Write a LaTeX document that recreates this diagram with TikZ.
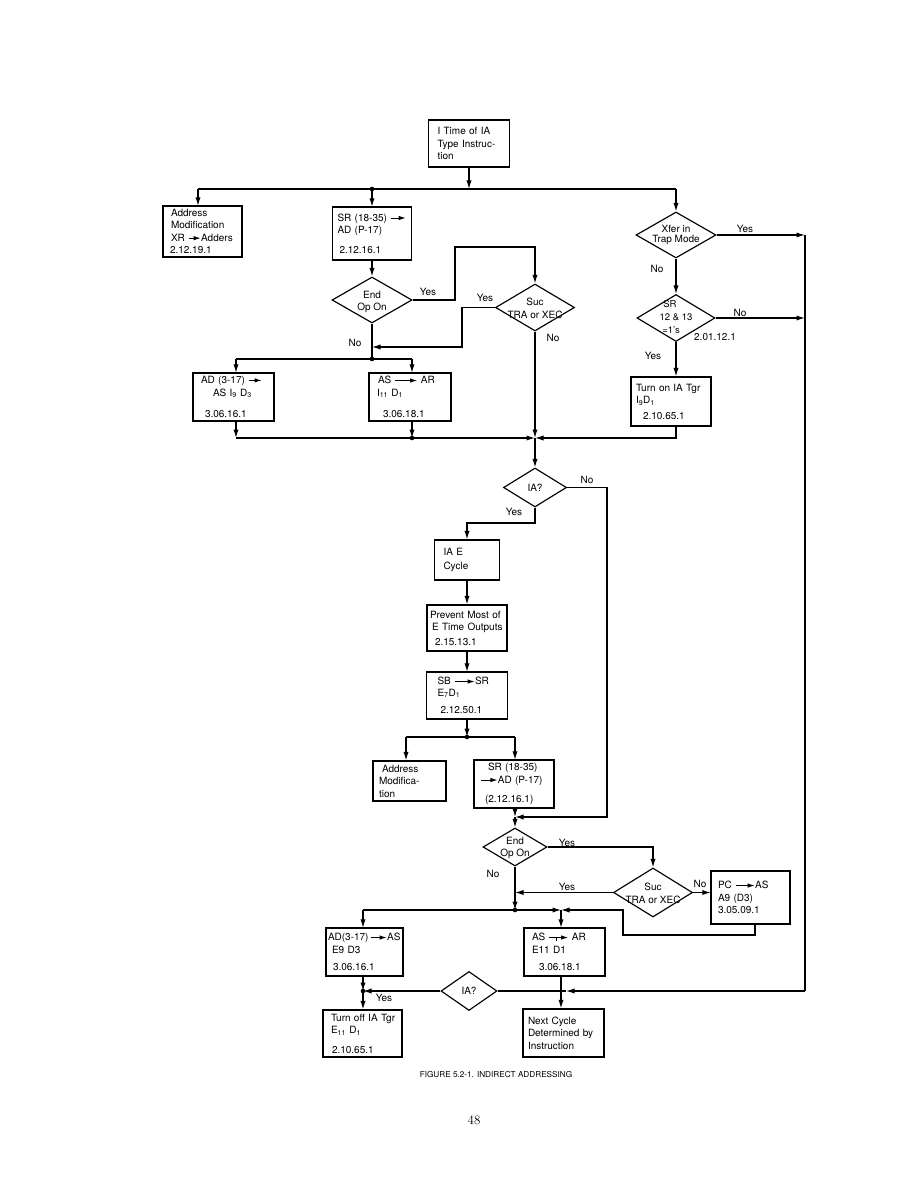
\documentclass[tikz,border=0pt]{standalone}
\usepackage{fontspec}
\setsansfont{TeX Gyre Heros}
\usetikzlibrary{arrows.meta,shapes.geometric,calc}
\newcommand\ffont{\sffamily\fontsize{10}{12.5}\selectfont}
\newcommand\inarr[1]{\tikz[baseline=-0.6ex]\draw[line width=0.9pt,-{Latex[length=7pt,width=4.4pt]}] (0pt,0pt) -- (#1,0pt);}
\newcommand\inarrt{\tikz[baseline=-0.6ex]{\draw[line width=0.9pt,-{Latex[length=7pt,width=4.4pt]}] (0pt,0pt) -- (19pt,0pt);\draw[line width=0.9pt] (7pt,0pt) -- (7pt,-3pt);}}
\newcommand\sub[1]{\textsubscript{#1}}
\begin{document}
\begin{tikzpicture}[x=1pt,y=-1pt,line width=1.15pt,
  arr/.style={-{Latex[length=8.5pt,width=5.2pt]}},
  box/.style={draw,rectangle,align=left,inner xsep=4pt,inner ysep=1pt,font=\ffont},
  dia/.style={draw,diamond,inner sep=0pt},
  txt/.style={align=center,inner sep=0pt,font=\ffont},
  lbl/.style={inner sep=0pt,font=\ffont}]
\useasboundingbox (0,0) rectangle (920,1190);

% ---------- boxes ----------
\node[box,text width=73pt,minimum height=47pt] (top) at (469,143.5) {\hspace*{5pt}I Time of IA\\\hspace*{5pt}Type Instruc-\\\hspace*{5pt}tion};
\node[box,text width=71pt,minimum height=51pt] (addr) at (202.5,231.5) {\hspace*{4pt}Address\\\hspace*{4pt}Modification\\\hspace*{4pt}XR \inarr{12pt}Adders\\\hspace*{3pt}2.12.19.1};
\node[box,text width=71pt,minimum height=53pt] (sr1) at (372,233.5) {\hspace*{1pt}SR (18-35) \inarr{15pt}\\\hspace*{1pt}AD (P-17)\\[7pt]\hspace*{3pt}2.12.16.1};
\node[box,text width=73pt,minimum height=48pt] (ad1) at (233.5,397) {\hspace*{4pt}AD (3-17) \inarr{13pt}\\\hspace*{16pt}AS I\sub{9} D\sub{3}\\[9pt]\hspace*{8pt}3.06.16.1};
\node[box,text width=74pt,minimum height=48pt] (as1) at (410,397) {\hspace*{5pt}AS \inarr{22pt} AR\\\hspace*{4pt}I\sub{11} D\sub{1}\\[9pt]\hspace*{10pt}3.06.18.1};
\node[box,text width=72pt,minimum height=49pt] (turnon) at (671,401.5) {\hspace*{1pt}Turn on IA Tgr\\\hspace*{1pt}I\sub{9}D\sub{1}\\[3pt]\hspace*{8pt}2.10.65.1};
\node[box,text width=57pt,minimum height=40pt] (iae) at (467,560) {\hspace*{5pt}IA E\\[1pt]\hspace*{5pt}Cycle};
\node[box,inner xsep=3pt,text width=74pt,minimum height=46pt] (prev) at (467,628) {Prevent Most of\\\hspace*{2pt}E Time Outputs\\[2pt]\hspace*{5pt}2.15.13.1};
\node[box,text width=73pt,minimum height=47pt] (sb) at (467,695.5) {\hspace*{7pt}SB \inarr{20pt}SR\\[-1pt]\hspace*{7pt}E\sub{7}D\sub{1}\\[5pt]\hspace*{10pt}2.12.50.1};
\node[box,text width=65pt,minimum height=40pt] (addr2) at (409.5,781) {\hspace*{5pt}Address\\\hspace*{2pt}Modifica-\\\hspace*{2pt}tion};
\node[box,text width=72pt,minimum height=48pt] (sr3) at (514,784) {\hspace*{10pt}SR (18-35)\\\hspace*{3pt}\inarr{16pt}AD (P-17)\\[7pt]\hspace*{7pt}(2.12.16.1)};
\node[box,text width=71pt,minimum height=53pt] (pc) at (750.5,897.5) {\hspace*{3pt}PC \inarr{19pt}AS\\\hspace*{3pt}A9 (D3)\\\hspace*{3pt}3.05.09.1};
\node[box,inner xsep=2pt,text width=73pt,minimum height=48pt] (ad2) at (364.5,952) {AD(3-17)\,\inarr{16pt}AS\\\hspace*{4pt}E9 D3\\[5pt]\hspace*{5pt}3.06.16.1};
\node[box,text width=73pt,minimum height=48pt] (as2) at (564.5,952) {\hspace*{4pt}AS \inarrt\ AR\\\hspace*{4pt}E11 D1\\[5pt]\hspace*{11pt}3.06.18.1};
\node[box,text width=71pt,minimum height=47pt] (turnoff) at (362.5,1033.5) {\hspace*{4pt}Turn off IA Tgr\\\hspace*{4pt}E\sub{11} D\sub{1}\\[7pt]\hspace*{5pt}2.10.65.1};
\node[box,text width=73pt,minimum height=48pt] (next) at (563.5,1033) {\hspace*{1pt}Next Cycle\\\hspace*{1pt}Determined by\\\hspace*{1pt}Instruction};

% ---------- diamonds ----------
\node[dia,minimum width=80pt,minimum height=46pt] (xfer) at (676,235) {};
\node[txt] (xfert) at (xfer.center) {Xfer in\\[-2pt]Trap Mode};
\node[dia,minimum width=80pt,minimum height=46pt] (end1) at (372,300) {};
\node[txt] (end1t) at ([yshift=-2pt]end1.center) {End\\Op On};
\node[dia,minimum width=79pt,minimum height=47pt] (suc1) at (535,307.5) {};
\node[txt] (suc1t) at ([yshift=-1pt]suc1.center) {Suc\\TRA or XEC};
\node[dia,minimum width=78pt,minimum height=47pt] (sr2) at (676,318) {};
\node[txt,font=\sffamily\fontsize{9.5}{13}\selectfont] (sr2t) at ([yshift=1pt]sr2.center) {\hspace*{-12pt}SR\\12 \& 13\\\hspace*{-10pt}=1's};
\node[dia,minimum width=63pt,minimum height=39pt] (ia1) at (535,487.5) {};
\node[txt] (ia1t) at (ia1.center) {IA?};
\node[dia,minimum width=64pt,minimum height=38pt] (end2) at (515,847) {};
\node[txt] (end2t) at ([yshift=-1pt]end2.center) {End\\Op On};
\node[dia,minimum width=79pt,minimum height=49pt] (suc2) at (653,892.5) {};
\node[txt] (suc2t) at ([yshift=-1pt]suc2.center) {Suc\\TRA or XEC};
\node[dia,minimum width=56pt,minimum height=39pt] (ia2) at (469,991) {};
\node[txt] (ia2t) at (ia2.center) {IA?};

% ---------- coordinates ----------
\coordinate (b1) at (469,189);
\coordinate (l1) at (198,189);
\coordinate (d1) at (372,189);
\coordinate (r1) at (676,189);
\coordinate (rtop) at (805,235);
\coordinate (rbot) at (805,991);
\coordinate (e1a) at (455,247);
\coordinate (s1a) at (462,347);
\coordinate (d2) at (372,359);
\coordinate (d2l) at (236,359);
\coordinate (d2r) at (412,359);
\coordinate (d3l) at (236,438);
\coordinate (d3) at (412,438);
\coordinate (j1) at (535,438);
\coordinate (n1) at (607,817);
\coordinate (j2) at (515,817);
\coordinate (y1) at (467,523);
\coordinate (d4) at (467,737);
\coordinate (d4l) at (406,737);
\coordinate (d4r) at (515,737);
\coordinate (d5) at (515,910);
\coordinate (d6l) at (363,910);
\coordinate (j3) at (561,910);
\coordinate (pb) at (755,935);
\coordinate (pa) at (623,935);
\coordinate (d7) at (363,991);
\coordinate (m1) at (566,991);

% ---------- connectors ----------
\draw[arr] (top.south) -- (b1);
\draw (l1) -- (r1);
\draw[arr] (l1) -- (l1 |- addr.north);
\draw[arr] (d1) -- (d1 |- sr1.north);
\draw[arr] (r1) -- (xfer.north);
\draw (rtop) -- (rbot);
\draw[arr] (xfer.east) -- (rtop);
\draw[arr] (xfer.south) -- (sr2.north);
\draw[arr] (sr2.east) -- (sr2.east -| rtop);
\draw[arr] (sr2.south) -- (sr2.south |- turnon.north);
\draw[arr] (turnon.south -| sr2.south) |- (j1);
\draw[arr] (sr1.south) -- (end1.north);
\draw[arr] (end1.east) -| (e1a) -| (suc1.north);
\draw[arr] (suc1.west) -| (s1a) -- (s1a -| end1.south);
\draw (end1.south) -- (d2);
\draw (d2l) -- (d2r);
\draw[arr] (d2l) -- (d2l |- ad1.north);
\draw[arr] (d2r) -- (d2r |- as1.north);
\draw[arr] (d2l |- ad1.south) -- (d3l);
\draw[arr] (d2r |- as1.south) -- (d3);
\draw[arr] (d3l) -- (j1);
\draw[arr] (suc1.south) -- (j1);
\draw[arr] (j1) -- (ia1.north);
\draw[arr] (ia1.east) -| (n1) -- (j2);
\draw[arr] (ia1.south) |- (y1) -- (iae.north);
\draw[arr] (iae.south) -- (prev.north);
\draw[arr] (prev.south) -- (sb.north);
\draw[arr] (sb.south) -- (d4);
\draw (d4l) -- (d4r);
\draw[arr] (d4l) -- (d4l |- addr2.north);
\draw[arr] (d4r) -- (d4r |- sr3.north);
\draw[arr] (d4r |- sr3.south) -- (j2);
\draw[arr] (j2) -- (end2.north);
\draw[arr] (end2.east) -| (suc2.north);
\draw[arr] (suc2.west) -- (suc2.west -| j2);
\draw[arr] (suc2.east) -- (suc2.east -| pc.west);
\draw[arr] (end2.south) -- (d5);
\draw (d6l) -- (d5);
\draw[arr] (d5) -- (j3);
\draw[arr] (pb |- pc.south) -- (pb) -- (pa) |- (j3);
\draw[arr] (j3) -- (j3 |- as2.north);
\draw[arr] (d6l) -- (d6l |- ad2.north);
\draw[arr] (d6l |- ad2.south) -- (d7);
\draw[arr] (d7) -- (d7 |- turnoff.north);
\draw[arr] (ia2.west) -- (d7);
\draw[arr] (rbot) -- (m1);
\draw (m1) -- (ia2.east);
\draw[arr] (j3 |- as2.south) -- (j3 |- next.north);

\foreach \p in {d1,d2,d3,d4,d5,d7} \fill (\p) circle (2.3pt);

% ---------- labels ----------
\node[lbl] (yx) at (745,229) {Yes};
\node[lbl] (nx) at (657,269) {No};
\node[lbl] (ns) at (740,313) {No};
\node[lbl] (cs) at (715,337) {2.01.12.1};
\node[lbl] (ys) at (653,356) {Yes};
\node[lbl] (ye1) at (428,292) {Yes};
\node[lbl] (ys1) at (485,298) {Yes};
\node[lbl] (ne1) at (355,343) {No};
\node[lbl] (ns1) at (553,338) {No};
\node[lbl] (ni1) at (587,480) {No};
\node[lbl] (yi1) at (514,512) {Yes};
\node[lbl] (ye2) at (567,843) {Yes};
\node[lbl] (ne2) at (493,874) {No};
\node[lbl] (ys2) at (567,887) {Yes};
\node[lbl] (ns2) at (700,884) {No};
\node[lbl] (yi2) at (384,998) {Yes};

\node[inner sep=0pt,font=\sffamily\fontsize{8.2}{10}\selectfont] (cap) at (496,1074) {FIGURE 5.2-1. INDIRECT ADDRESSING};
\node[inner sep=0pt,font=\rmfamily\fontsize{13}{15}\selectfont] (pg) at (474,1120) {48};
\end{tikzpicture}
\end{document}
